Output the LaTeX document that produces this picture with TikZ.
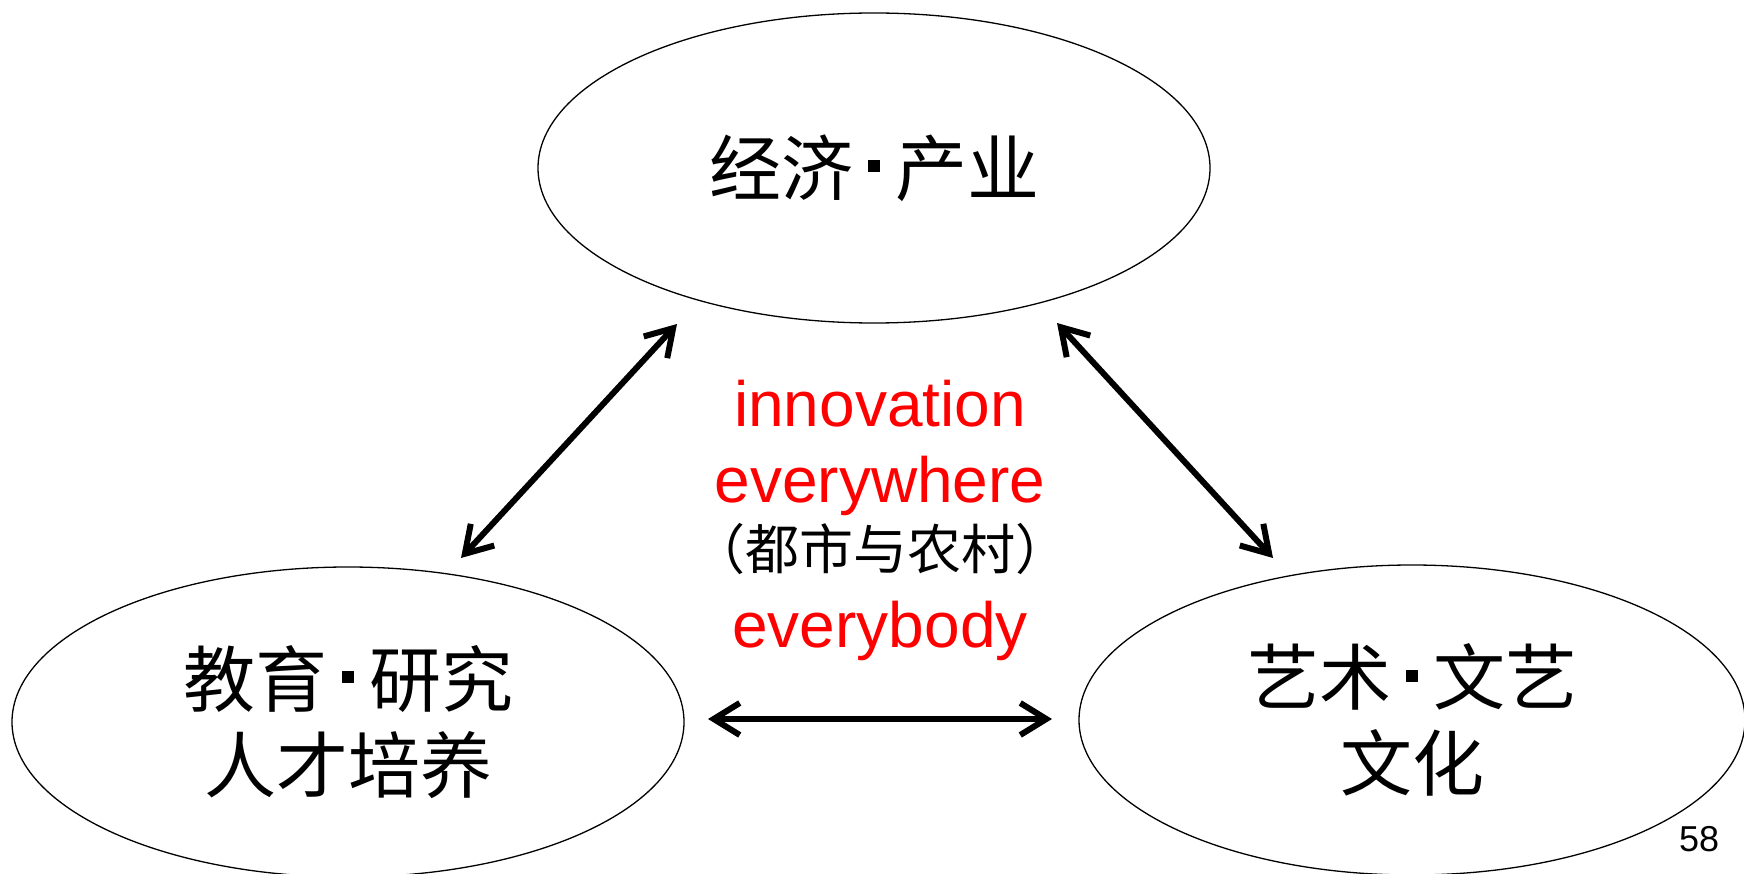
\documentclass[tikz,border=0pt]{standalone}
\usepackage{fontspec}
\setmainfont{Liberation Sans}
\newfontfamily\cjk{Noto Sans CJK SC}
\usetikzlibrary{shapes.geometric,arrows.meta}
\newcommand\sqdot{\hspace{15pt}\rule[23pt]{12pt}{12pt}\hspace{15pt}}
\begin{document}
\begin{tikzpicture}[x=1pt,y=-1pt,
  field/.style={ellipse,draw,line width=1.3pt,inner sep=0pt,minimum width=672pt,minimum height=310pt,
    align=center,font=\cjk\fontsize{72}{86}\selectfont},
  link/.style={{Straight Barb[length=26pt,width=32pt]}-{Straight Barb[length=26pt,width=32pt]},
    line width=6pt,line cap=round,line join=round},
  motto/.style={anchor=base,text=red,font=\fontsize{64}{64}\selectfont}]
  \useasboundingbox (0,0) rectangle (1744,874);
  \node[field] (eco) at (874,168) {经济\sqdot 产业};
  \node[field] (edu) at (348,722) {教育\sqdot 研究\\人才培养};
  \node[field,minimum width=666pt] (art) at (1412,720) {艺术\sqdot 文艺\\文化};
  \coordinate (eco-l) at (677,324);
  \coordinate (eco-r) at (1057,323);
  \coordinate (edu-t) at (461,558);
  \coordinate (edu-r) at (708,719);
  \coordinate (art-t) at (1273,558);
  \coordinate (art-l) at (1052,719);
  \draw[link] (eco-l) -- (edu-t);
  \draw[link] (eco-r) -- (art-t);
  \draw[link] (edu-r) -- (art-l);
  \node[motto] (inno) at (880,426) {innovation};
  \node[motto] (where) at (880,502) {everywhere};
  \node[anchor=base,font=\cjk\fontsize{54}{54}\selectfont] (city) at (880,569) {（都市与农村）};
  \node[motto] (body) at (880,647) {everybody};
  \node[anchor=base,font=\fontsize{36}{36}\selectfont] (page) at (1699,851) {58};
\end{tikzpicture}
\end{document}
